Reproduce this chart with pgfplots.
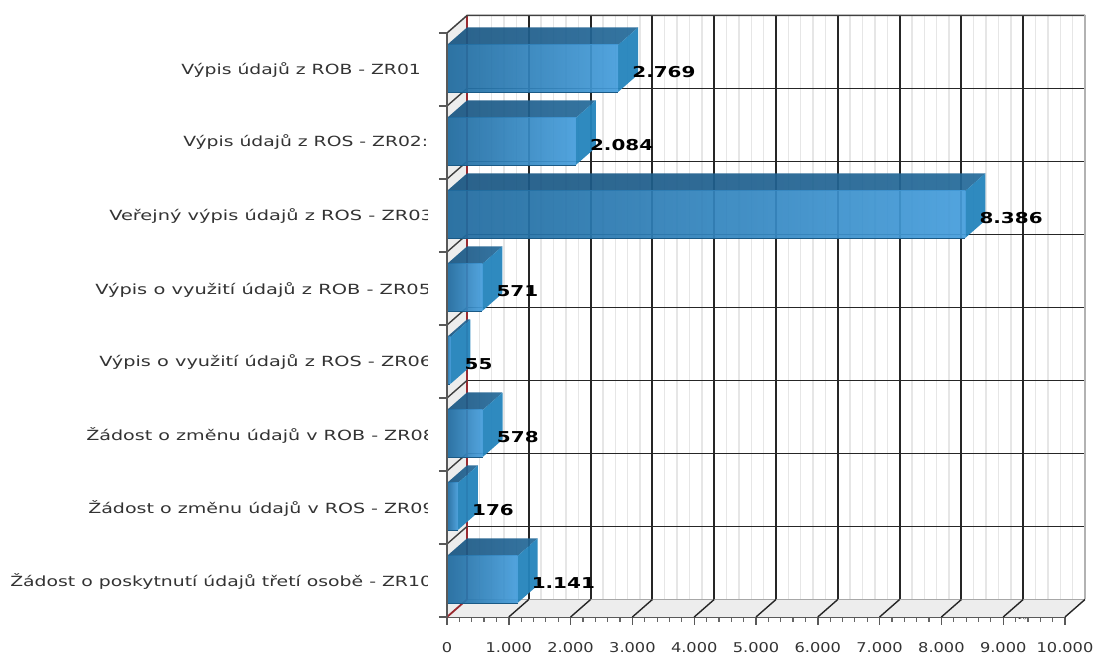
\documentclass[border=0pt]{standalone}
\usepackage{pgfplots}
\pgfplotsset{compat=1.18}
\usepackage{fontspec}
\setmainfont{DejaVu Sans}

% colours of the bars and the chart frame
\definecolor{barL}{HTML}{1F6A9E}
\definecolor{barR}{HTML}{459DDB}
\definecolor{topL}{HTML}{1A5682}
\definecolor{topR}{HTML}{256A9A}
\definecolor{sideC}{HTML}{2484BC}
\definecolor{floorC}{HTML}{EDEDED}
\definecolor{minorC}{HTML}{E6E6E6}
\definecolor{redL}{HTML}{9A2A30}

% depth of the 3D frame, in x units and in category units
\def\dx{323.6}
\def\dy{0.24}

% one bar: lower edge of its category, value
\newcommand{\threeDbar}[2]{%
  \pgfmathsetmacro{\yl}{#1+0.192}%
  \pgfmathsetmacro{\yh}{#1+0.836}%
  \pgfmathsetmacro{\xb}{#2+\dx}%
  \pgfmathsetmacro{\ylb}{\yl+\dy}%
  \pgfmathsetmacro{\yhb}{\yh+\dy}%
  \addplot[draw=none,left color=topL,right color=topR,opacity=.93,forget plot]
    coordinates {(0,\yh) (#2,\yh) (\xb,\yhb) (\dx,\yhb)} -- cycle;
  \addplot[draw=none,fill=sideC,opacity=.95,forget plot]
    coordinates {(#2,\yl) (\xb,\ylb) (\xb,\yhb) (#2,\yh)} -- cycle;
  \addplot[draw=none,left color=barL,right color=barR,opacity=.93,forget plot]
    coordinates {(0,\yl) (#2,\yl) (#2,\yh) (0,\yh)} -- cycle;
  \addplot[draw=barL!85!black,line width=.8pt,forget plot]
    coordinates {(0,\yl) (#2,\yl)};
}

\begin{document}
\begin{tikzpicture}[x=1pt,y=1pt]
% fixes the page to the full chart area
\path[use as bounding box] (-447,-38) rectangle (647,617);

% back wall with its grid
\begin{axis}[
  at={(20pt,17.5pt)},anchor=origin,
  scale only axis,width=618pt,height=584pt,
  xmin=0,xmax=10000,ymin=0,ymax=8,
  xtick={0,1000,...,10000},ytick={0,1,...,8},
  minor x tick num=4,
  xticklabels={},yticklabels={},
  major tick length=0pt,minor tick length=0pt,
  xmajorgrids,ymajorgrids,xminorgrids,
  major grid style={black!85,line width=1.9pt},
  minor grid style={minorC,line width=1.4pt},
  axis line style={draw=none},
]
\addplot[draw=none,forget plot] coordinates {(0,0) (10000,8)};
\end{axis}

% front plane: floor, side wall, bars, ticks and labels
\begin{axis}[
  at={(0pt,0pt)},anchor=origin,
  scale only axis,width=618pt,height=584pt,
  xmin=0,xmax=10000,ymin=0,ymax=8,
  clip=false,
  axis lines=left,
  axis line style={-,draw=black!65,line width=1.4pt},
  xtick={0,1000,...,10000},
  scaled x ticks=false,
  minor xtick={200,400,600,800,1200,1400,1600,1800,2200,2400,2600,2800,3200,3400,3600,3800,4200,4400,4600,4800,5200,5400,5600,5800,6200,6400,6600,6800,7200,7400,7600,7800,8200,8400,8600,8800,9200,9400,9600,9800},
  ytick={0,1,...,8},yticklabels={},
  major tick length=8pt,minor tick length=5pt,
  tick align=outside,
  tick style={draw=black!65,line width=1.4pt},
  minor x tick style={draw=black!60,line width=1.2pt},
  /pgf/number format/assume math mode=true,
  /pgf/number format/1000 sep={.},
  xticklabel style={font=\fontsize{13.5}{13.5}\selectfont,xscale=1.2,yshift=-17pt,inner sep=0pt,text=black!80},
]
% floor and side wall
\addplot[fill=floorC,draw=none,forget plot]
  coordinates {(0,0) (10000,0) (10323.6,0.24) (323.6,0.24)} -- cycle;
\addplot[fill=floorC,draw=none,forget plot]
  coordinates {(0,0) (323.6,0.24) (323.6,8.24) (0,8)} -- cycle;
% red zero line of the back wall and its foot on the floor
\addplot[redL,line width=1.8pt,forget plot]
  coordinates {(0,0) (323.6,0.24) (323.6,8.24)};
% frame edges
\addplot[black!75,line width=1.5pt,forget plot]
  coordinates {(0,8) (323.6,8.24)  (10323.6,8.24)};
\addplot[black!30,line width=2pt,forget plot]
  coordinates {(10323.6,0.24) (10323.6,8.24)};
% depth lines on the floor
\pgfplotsinvokeforeach{1000,2000,...,10000}{%
  \pgfmathsetmacro{\xb}{#1+\dx}%
  \addplot[black!85,line width=1.4pt,forget plot]
    coordinates {(#1,0) (\xb,0.24)};
}
% depth lines on the side wall
\pgfplotsinvokeforeach{1,...,7}{%
  \pgfmathsetmacro{\yb}{#1+\dy}%
  \addplot[black!75,line width=1.4pt,forget plot]
    coordinates {(0,#1) (\dx,\yb)};
}

\threeDbar{7}{2769}
\threeDbar{6}{2084}
\threeDbar{5}{8386}
\threeDbar{4}{571}
\threeDbar{3}{55}
\threeDbar{2}{578}
\threeDbar{1}{176}
\threeDbar{0}{1141}

% value labels beside the bars
\addplot[only marks,mark size=0pt,draw=none,point meta=x,
  nodes near coords,
  every node near coord/.append style={font=\fontsize{15}{15}\selectfont\bfseries,anchor=west,xshift=14pt,yshift=-3.5pt,xscale=1.33,text=black,inner sep=0pt}]
  table {
2769 7.514
2084 6.514
8386 5.514
571 4.514
55 3.514
578 2.514
176 1.514
1141 0.514
};
\end{axis}

% category names: left edge, stretch, height and text of each
\foreach \xx/\sc/\yy/\lab in {
  181/1.34/70.5/Výpis údajů z ROB - ZR01,
  183/1.34/142.5/Výpis údajů z ROS - ZR02:,
  109/1.384/216/Veřejný výpis údajů z ROS - ZR03,
  95/1.386/290/Výpis o využití údajů z ROB - ZR05,
  99/1.378/362.5/Výpis o využití údajů z ROS - ZR06,
  86/1.365/435/Žádost o změnu údajů v ROB - ZR08,
  88/1.36/508.5/Žádost o změnu údajů v ROS - ZR09,
  10/1.345/581/Žádost o poskytnutí údajů třetí osobě - ZR10}{
  \node[anchor=west,inner sep=0pt,font=\fontsize{14}{14}\selectfont,xscale=\sc,text=black!80] at ({\xx-447},{617-\yy}) {\lab};
}
% the chart control cuts the names off at a fixed right edge
\fill[white] (-19.5,0) rectangle (-10,584);
\draw[black!65,line width=1.4pt] \foreach \k in {0,...,8} {(-8,{\k*73}) -- (0,{\k*73})};
\draw[black!65,line width=1.4pt] (0,0) -- (0,584);
\end{tikzpicture}
\end{document}
